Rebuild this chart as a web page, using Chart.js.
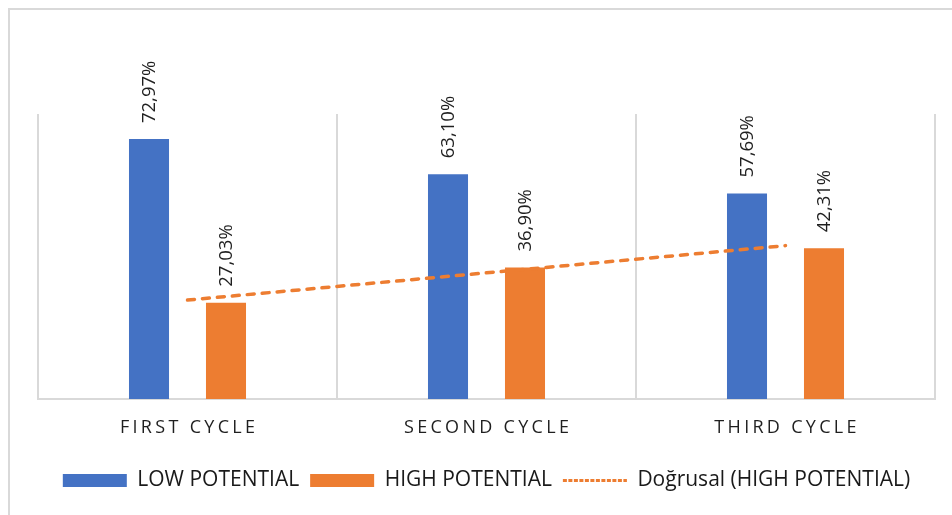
<!DOCTYPE html>
<html>
<head>
<meta charset="utf-8">
<script src="https://cdn.jsdelivr.net/npm/chart.js@4.4.1/dist/chart.umd.min.js"></script>
<style>
  html, body { margin: 0; padding: 0; background: #fff; }
  #wrap { width: 952px; height: 515px; position: relative; }
</style>
</head>
<body>
<div id="wrap"><canvas id="grafico"></canvas></div>
<script>
// Chart data
const categorias = ['FIRST CYCLE', 'SECOND CYCLE', 'THIRD CYCLE'];
const lowPotential = [72.97, 63.10, 57.69];
const highPotential = [27.03, 36.90, 42.31];
const nomeLow = 'LOW POTENTIAL';
const nomeHigh = 'HIGH POTENTIAL';
const nomeTrend = 'Doğrusal (HIGH POTENTIAL)';

const AZUL = '#4472C4';
const LARANJA = '#ED7D31';

// Linear trendline (least squares) over the HIGH series, like Excel's "Doğrusal"
function tendenciaLinear(valores) {
    const n = valores.length;
    const xs = valores.map((v, i) => i + 1);
    const mx = xs.reduce((s, x) => s + x, 0) / n;
    const my = valores.reduce((s, y) => s + y, 0) / n;
    let num = 0, den = 0;
    xs.forEach((x, i) => {
        num += (x - mx) * (valores[i] - my);
        den += (x - mx) * (x - mx);
    });
    const b = num / den;
    const a = my - b * mx;
    return xs.map(x => a + b * x);
}

const trendHigh = tendenciaLinear(highPotential);

// Outer frame (only top and left edges are visible in the crop)
const moldura = {
    id: 'moldura',
    beforeDraw(chart) {
        const ctx = chart.ctx;
        ctx.save();
        ctx.fillStyle = '#fff';
        ctx.fillRect(0, 0, chart.width, chart.height);
        ctx.strokeStyle = '#d9d9d9';
        ctx.lineWidth = 2;
        ctx.beginPath();
        ctx.moveTo(9, chart.height);
        ctx.lineTo(9, 9);
        ctx.lineTo(chart.width, 9);
        ctx.stroke();
        ctx.restore();
    }
};

// Vertical value labels above each bar
const rotulos = {
    id: 'rotulos',
    afterDatasetsDraw(chart) {
        const ctx = chart.ctx;
        ctx.save();
        ctx.font = '18.5px "Open Sans"';
        ctx.fillStyle = '#1f1f1f';
        ctx.textAlign = 'left';
        ctx.textBaseline = 'middle';
        chart.data.datasets.forEach((ds, di) => {
            if (ds.type === 'line') return;
            const meta = chart.getDatasetMeta(di);
            meta.data.forEach((el, i) => {
                const txt = ds.data[i].toFixed(2).replace('.', ',') + '%';
                ctx.save();
                ctx.translate(el.x + 1, el.y - 16);
                ctx.rotate(-Math.PI / 2);
                ctx.fillText(txt, 0, 0);
                ctx.restore();
            });
        });
        ctx.restore();
    }
};

// Category labels with letter spacing
const categoriasEixo = {
    id: 'categoriasEixo',
    afterDraw(chart) {
        const ctx = chart.ctx;
        const xScale = chart.scales.x;
        ctx.save();
        ctx.font = '18px "Open Sans"';
        ctx.fillStyle = '#1f1f1f';
        ctx.textAlign = 'center';
        ctx.textBaseline = 'middle';
        ctx.letterSpacing = '3.3px';
        categorias.forEach((c, i) => {
            ctx.fillText(c, xScale.getPixelForTick(i) + 1.6, chart.chartArea.bottom + 29);
        });
        ctx.restore();
    }
};

Chart.defaults.font.family = '"Open Sans"';
Chart.defaults.color = '#1f1f1f';

const ctx = document.getElementById('grafico').getContext('2d');
new Chart(ctx, {
    type: 'bar',
    data: {
        labels: categorias,
        datasets: [
            {
                label: nomeLow,
                data: lowPotential,
                backgroundColor: AZUL,
                borderWidth: 0,
                categoryPercentage: 0.515,
                barPercentage: 0.52
            },
            {
                label: nomeHigh,
                data: highPotential,
                backgroundColor: LARANJA,
                borderWidth: 0,
                categoryPercentage: 0.515,
                barPercentage: 0.52
            },
            {
                type: 'line',
                label: nomeTrend,
                data: trendHigh,
                borderColor: LARANJA,
                backgroundColor: LARANJA,
                borderWidth: 3.5,
                borderDash: [7, 8],
                borderCapStyle: 'round',
                pointRadius: 0,
                fill: false,
                order: -1
            }
        ]
    },
    options: {
        responsive: true,
        maintainAspectRatio: false,
        animation: false,
        layout: {
            padding: { left: 38, right: 17, top: 114, bottom: 14 }
        },
        plugins: {
            tooltip: { enabled: false },
            legend: {
                position: 'bottom',
                labels: {
                    font: { size: 21 },
                    color: '#1a1a1a',
                    usePointStyle: true,
                    pointStyleWidth: 64,
                    boxHeight: 13,
                    padding: 11,
                    generateLabels(chart) {
                        const itens = Chart.defaults.plugins.legend.labels.generateLabels(chart);
                        itens.forEach(it => {
                            const ds = chart.data.datasets[it.datasetIndex];
                            if (ds.type === 'line') {
                                it.pointStyle = 'line';
                                it.lineWidth = 3;
                                it.lineDash = [4, 1.5];
                                it.lineCap = 'butt';
                            } else {
                                it.pointStyle = 'rect';
                                it.lineWidth = 0;
                            }
                        });
                        return itens.sort((a, b) => a.datasetIndex - b.datasetIndex);
                    }
                }
            }
        },
        scales: {
            x: {
                grid: {
                    display: true,
                    offset: true,
                    color: '#d9d9d9',
                    lineWidth: 2,
                    drawTicks: false
                },
                border: { display: true, color: '#d9d9d9', width: 2 },
                ticks: { display: false },
                afterFit(scale) { scale.height = 60; }
            },
            y: {
                display: false,
                min: 0,
                max: 80
            }
        }
    },
    plugins: [moldura, rotulos, categoriasEixo]
});
</script>
</body>
</html>
